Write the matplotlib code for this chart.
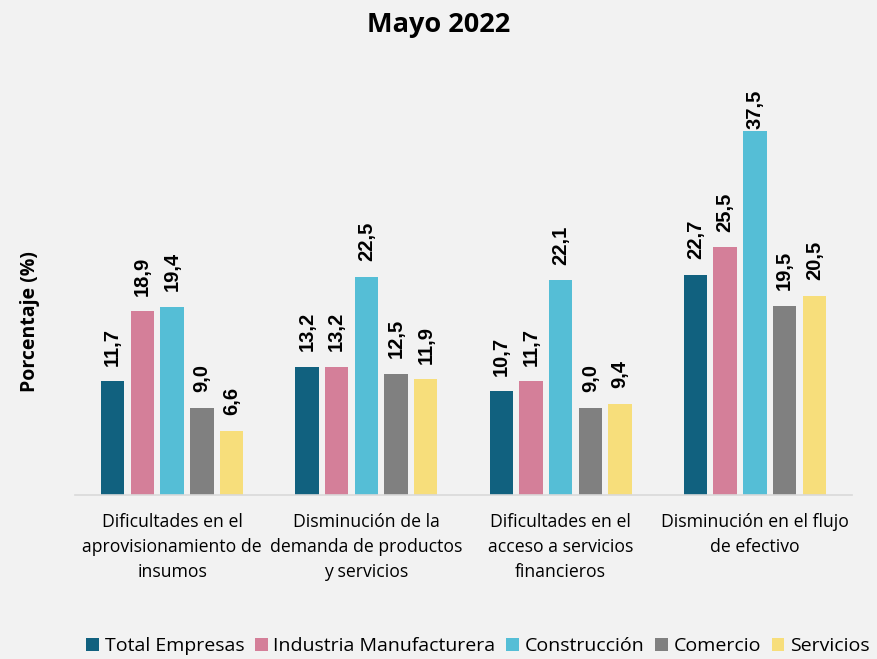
import numpy as np
import matplotlib.pyplot as plt

# datos
categorias = [
    "Dificultades en el\naprovisionamiento de\ninsumos",
    "Disminución de la\ndemanda de productos\ny servicios",
    "Dificultades en el\nacceso a servicios\nfinancieros",
    "Disminución en el flujo\nde efectivo",
]
series = ["Total Empresas", "Industria Manufacturera", "Construcción", "Comercio", "Servicios"]
total_empresas = [11.7, 13.2, 10.7, 22.7]
industria = [18.9, 13.2, 11.7, 25.5]
construccion = [19.4, 22.5, 22.1, 37.5]
comercio = [9.0, 12.5, 9.0, 19.5]
servicios = [6.6, 11.9, 9.4, 20.5]

valores = [total_empresas, industria, construccion, comercio, servicios]
colores = ["#11617F", "#D47F99", "#55BED6", "#808080", "#F7DE7B"]

fondo = "#F2F2F2"
fig = plt.figure(figsize=(8.77, 6.59), dpi=100, facecolor=fondo)
ax = fig.add_axes([75 / 877, 1 - 495 / 659, 777 / 877, 435 / 659], facecolor=fondo)

x = np.arange(len(categorias))
ancho = 0.12
paso = 0.153
for i, (nombre, vals, col) in enumerate(zip(series, valores, colores)):
    pos = x + (i - 2) * paso
    barras = ax.bar(pos, vals, ancho, color=col, label=nombre)
    for b, v in zip(barras, vals):
        # la etiqueta no sale del area del grafico (como en Excel)
        ax.text(b.get_x() + b.get_width() / 2, min(v + 1.6, 37.7), f"{v:.1f}".replace(".", ","),
                rotation=90, ha="center", va="bottom", fontsize=14.5,
                fontweight="bold", family="Liberation Sans")

ax.set_xlim(-0.5, 3.5)
ax.set_ylim(0, 44.8)
ax.set_yticks([])
for s in ["top", "right", "left"]:
    ax.spines[s].set_visible(False)
ax.spines["bottom"].set_color("#D9D9D9")
ax.spines["bottom"].set_linewidth(1.2)
ax.set_xticks(x)
ax.set_xticklabels(categorias, fontsize=12.7, family="Open Sans", linespacing=1.5)
ax.tick_params(axis="x", length=0, pad=13)

fig.text(30 / 877, 1 - 322 / 659, "Porcentaje (%)", rotation=90, ha="center", va="center",
         fontsize=14, fontweight="bold", family="Open Sans")
fig.text(0.5, 1 - 25 / 659, "Mayo 2022", ha="center", va="center",
         fontsize=19.5, fontweight="bold", family="Open Sans")

fig.legend(loc="center", bbox_to_anchor=(0.545, 1 - 646 / 659), ncol=5, frameon=False,
           prop={"family": "Open Sans", "size": 14}, handlelength=0.65, handleheight=0.65,
           handletextpad=0.3, columnspacing=0.55, borderaxespad=0)

fig.savefig("out.png", dpi=100, facecolor=fondo)
